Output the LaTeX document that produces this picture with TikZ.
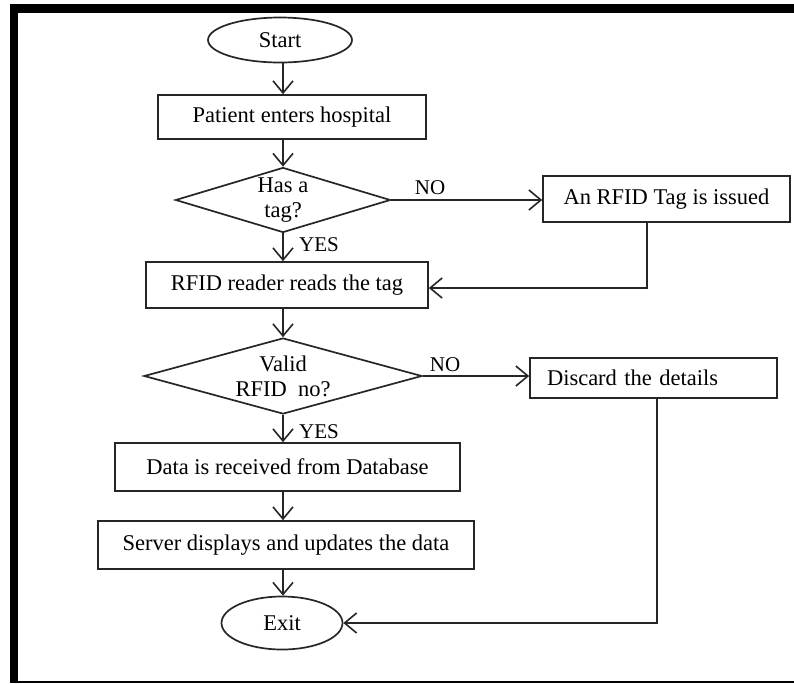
\documentclass[tikz,border=0pt]{standalone}
\usepackage{fontspec}
\setmainfont{Liberation Serif}
\usetikzlibrary{shapes.geometric,arrows.meta}
\begin{document}
\begin{tikzpicture}[x=1pt,y=-1pt,
  txt/.style={font=\fontsize{22.5}{25}\selectfont, align=center, inner sep=0pt},
  box/.style={txt, draw=black!85, line width=1.7pt, rectangle},
  term/.style={txt, draw=black!85, line width=1.7pt, ellipse},
  dia/.style={draw=black!85, line width=1.7pt, diamond, inner sep=0pt},
  conn/.style={draw=black!85, line width=1.6pt},
  arr/.style={conn, -{Straight Barb[length=12pt,width=20pt,line width=1.6pt]}},
  lab/.style={font=\fontsize{21}{24}\selectfont, inner sep=0pt}
]
\useasboundingbox (0,0) rectangle (794,683);
\fill[white] (0,0) rectangle (794,683);
% frame
\fill[black] (10,4) rectangle (794,12.5);
\fill[black] (10,4) rectangle (17.5,683);
\fill[black] (10,681) rectangle (794,683);

\coordinate (axis) at (283,0);

\node[term, minimum width=144pt, minimum height=45pt] (start) at (280,40) {Start};
\node[box, minimum width=268pt, minimum height=44pt] (patient) at (292,117) {Patient enters hospital};
\node[dia, minimum width=215pt, minimum height=65pt] (hastag) at (283,200) {};
\node[txt] (hastagtxt) at (283,200) {Has a\\tag?};
\node[box, minimum width=247pt, minimum height=46pt] (issue) at (666.5,199) {An RFID Tag is issued};
\node[box, minimum width=282pt, minimum height=46pt] (reader) at (287,285) {RFID reader reads the tag};
\node[dia, minimum width=278pt, minimum height=76pt] (valid) at (283,376) {};
\node[txt] (validtxt) at (283,376) {Valid\\RFID\ \ no?};
\node[box, minimum width=247pt, minimum height=40pt, text width=213pt, inner xsep=17pt, align=left] (discard) at (653.5,378) {Discard the details};
\node[box, minimum width=345pt, minimum height=48pt] (data) at (287.5,467) {Data is received from Database};
\node[box, minimum width=376pt, minimum height=48pt] (server) at (286,545) {Server displays and updates the data};
\node[term, minimum width=121pt, minimum height=53pt] (exit) at (282,623) {Exit};

% connectors
\draw[arr] (start.south -| axis) -- (patient.north -| axis);
\draw[arr] (patient.south -| axis) -- (hastag.north);
\draw[arr] (hastag.east) -- (issue.west |- hastag.east);
\draw[arr] (hastag.south) -- (reader.north -| hastag.south);
\draw[arr] ([xshift=-19.5pt]issue.south) |- ([yshift=-3pt]reader.east);
\draw[arr] (reader.south -| axis) -- (valid.north);
\draw[arr] (valid.east) -- (discard.west |- valid.east);
\draw[arr] (valid.south) -- (data.north -| valid.south);
\draw[arr] (data.south -| axis) -- (server.north -| axis);
\draw[arr] (server.south -| axis) -- (exit.north -| axis);
\draw[arr] ([xshift=3.5pt]discard.south) |- (exit.east);

% labels
\node[lab] (no1) at (430,188) {NO};
\node[lab] (yes1) at (319,245) {YES};
\node[lab] (no2) at (445,365) {NO};
\node[lab] (yes2) at (319,432) {YES};
\end{tikzpicture}
\end{document}
